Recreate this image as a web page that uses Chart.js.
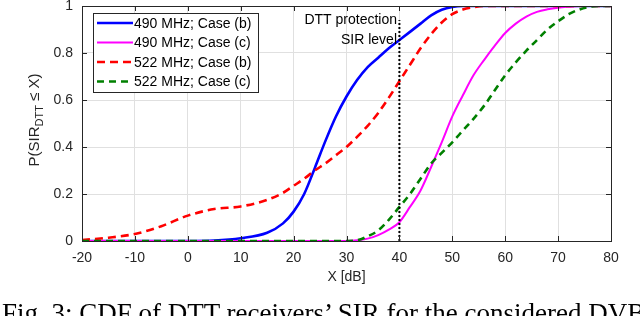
<!DOCTYPE html>
<html>
<head>
<meta charset="utf-8">
<script src="https://cdn.jsdelivr.net/npm/chart.js@4/dist/chart.umd.min.js"></script>
<style>
    body { margin: 0; background: #fff; }
    #wrap { position: relative; width: 640px; height: 316px; overflow: hidden; }
    #caption {
        position: absolute; left: 2px; top: 300px; white-space: nowrap;
        font-family: "Liberation Serif", serif; font-size: 27px; line-height: 27px; color: #000;
    }
</style>
</head>
<body>
<div id="wrap">
    <canvas id="cdf-chart" width="640" height="316"></canvas>
    <div id="caption">Fig. 3: CDF of DTT receivers’ SIR for the considered DVB-T</div>
</div>
<script>
// X grid (SIR in dB) shared by all the curves
const sirValues = [-20, -15, -10, -5, 0, 5, 10, 15, 18, 20, 22, 24, 26, 28, 30, 32, 34, 36, 38, 40,
    42, 44, 46, 48, 50, 52, 54, 56, 58, 60, 62, 64, 66, 68, 70, 72, 74, 76, 78, 80];

// CDF values
const cdf490b = [0, 0, 0, 0, 0, 0.002, 0.012, 0.035, 0.075, 0.125, 0.2, 0.31, 0.425, 0.53, 0.615, 0.685, 0.74, 0.78, 0.82, 0.855,
    0.89, 0.925, 0.96, 0.984, 0.996, 1, 1, 1, 1, 1, 1, 1, 1, 1, 1, 1, 1, 1, 1, 1];
const cdf490c = [0, 0, 0, 0, 0, 0, 0, 0, 0, 0, 0, 0, 0, 0, 0, 0.003, 0.01, 0.025, 0.048, 0.08,
    0.145, 0.215, 0.315, 0.42, 0.53, 0.62, 0.705, 0.77, 0.83, 0.885, 0.925, 0.955, 0.975, 0.986, 0.993, 0.997, 1, 1, 1, 1];
const cdf522b = [0.004, 0.014, 0.03, 0.063, 0.108, 0.136, 0.147, 0.175, 0.205, 0.235, 0.265, 0.3, 0.33, 0.365, 0.4, 0.443, 0.49, 0.545, 0.61, 0.68,
    0.75, 0.82, 0.88, 0.93, 0.965, 0.985, 0.995, 1, 1, 1, 1, 1, 1, 1, 1, 1, 1, 1, 1, 1];
const cdf522c = [0, 0, 0, 0, 0, 0, 0, 0, 0, 0, 0, 0, 0, 0, 0, 0.003, 0.02, 0.045, 0.09, 0.145,
    0.2, 0.265, 0.33, 0.375, 0.42, 0.47, 0.52, 0.575, 0.64, 0.705, 0.76, 0.81, 0.855, 0.9, 0.935, 0.965, 0.985, 0.997, 1, 1];

const seriesLabels = ["490 MHz; Case (b)", "490 MHz; Case (c)", "522 MHz; Case (b)", "522 MHz; Case (c)"];
const seriesColors = ["#0000ff", "#ff00ff", "#ff0000", "#008000"];

// DTT protection SIR level marker
const protectionX = [40, 40];
const protectionY = [0, 0.94];
const protectionText = ["DTT protection", "SIR level"];

const xTicks = [-20, -10, 0, 10, 20, 30, 40, 50, 60, 70, 80];
const yTicks = [0, 0.2, 0.4, 0.6, 0.8, 1];

const AXIS_COLOR = "#262626";
const FONT = "Liberation Sans, Arial, sans-serif";

function toPoints(xs, ys) {
    return xs.map((x, i) => ({ x: x, y: ys[i] }));
}

// Styles for the four curves (lines + dashes like the MATLAB plot)
const lineStyles = [
    { width: 2.6, dash: [] },
    { width: 2, dash: [] },
    { width: 2.6, dash: [8, 5] },
    { width: 2.6, dash: [7, 5] }
];
const allSeries = [cdf490b, cdf490c, cdf522b, cdf522c];

const datasets = allSeries.map((values, i) => ({
    label: seriesLabels[i],
    data: toPoints(sirValues, values),
    borderColor: seriesColors[i],
    borderWidth: lineStyles[i].width,
    borderDash: lineStyles[i].dash,
    pointRadius: 0,
    cubicInterpolationMode: "monotone",
    order: 4 - i // later series on top, like MATLAB
}));

datasets.push({
    label: "protection",
    data: toPoints(protectionX, protectionY),
    borderColor: "#000",
    borderWidth: 2,
    borderDash: [2, 2],
    pointRadius: 0,
    order: 0
});

// Draws the box, inward ticks, axis titles, legend and text note
const decorPlugin = {
    id: "decor",
    afterDraw(chart) {
        const ctx = chart.ctx;
        const area = chart.chartArea;
        const xs = chart.scales.x;
        const ys = chart.scales.y;
        ctx.save();

        // box
        ctx.strokeStyle = AXIS_COLOR;
        ctx.lineWidth = 1;
        ctx.setLineDash([]);
        ctx.strokeRect(Math.round(area.left) + 0.5, Math.round(area.top) + 0.5,
            Math.round(area.right - area.left), Math.round(area.bottom - area.top));

        // inward tick marks on all four sides
        ctx.beginPath();
        xTicks.forEach(v => {
            const px = Math.round(xs.getPixelForValue(v)) + 0.5;
            ctx.moveTo(px, area.bottom); ctx.lineTo(px, area.bottom - 5);
            ctx.moveTo(px, area.top); ctx.lineTo(px, area.top + 5);
        });
        yTicks.forEach(v => {
            const py = Math.round(ys.getPixelForValue(v)) + 0.5;
            ctx.moveTo(area.left, py); ctx.lineTo(area.left + 5, py);
            ctx.moveTo(area.right, py); ctx.lineTo(area.right - 5, py);
        });
        ctx.stroke();

        // x title
        ctx.fillStyle = AXIS_COLOR;
        ctx.font = "14px " + FONT;
        ctx.textAlign = "center";
        ctx.textBaseline = "middle";
        ctx.fillText("X [dB]", (area.left + area.right) / 2, 277);

        // y title with subscript
        ctx.translate(35, 120);
        ctx.rotate(-Math.PI / 2);
        const big = "15px " + FONT, small = "11px " + FONT;
        const parts = [["P(SIR", big, 0], ["DTT", small, 5], [" ≤ X)", big, 0]];
        let total = 0;
        parts.forEach(p => { ctx.font = p[1]; total += ctx.measureText(p[0]).width; });
        let cx = -total / 2;
        ctx.textAlign = "left";
        parts.forEach(p => {
            ctx.font = p[1];
            ctx.fillText(p[0], cx, p[2]);
            cx += ctx.measureText(p[0]).width;
        });
        ctx.setTransform(1, 0, 0, 1, 0, 0);

        // protection note
        ctx.fillStyle = "#000";
        ctx.font = "14px " + FONT;
        ctx.textAlign = "right";
        ctx.fillText(protectionText[0], 397, 20);
        ctx.fillText(protectionText[1], 397, 40);

        // legend
        ctx.fillStyle = "#fff";
        ctx.fillRect(93.5, 13.5, 165, 79);
        ctx.strokeStyle = AXIS_COLOR;
        ctx.lineWidth = 1;
        ctx.strokeRect(93.5, 13.5, 165, 79);
        const rows = [23, 42.5, 62, 81.5];
        seriesLabels.forEach((label, i) => {
            ctx.strokeStyle = seriesColors[i];
            ctx.lineWidth = lineStyles[i].width;
            ctx.setLineDash(lineStyles[i].dash);
            ctx.beginPath();
            ctx.moveTo(97, rows[i]);
            ctx.lineTo(133, rows[i]);
            ctx.stroke();
            ctx.setLineDash([]);
            ctx.fillStyle = "#000";
            ctx.textAlign = "left";
            ctx.fillText(label, 134, rows[i] + 1);
        });

        ctx.restore();
    }
};

function fixWidth(w) {
    return function (scale) {
        scale.width = w;
        scale.paddingTop = 0; scale.paddingBottom = 0;
    };
}
function fixHeight(h) {
    return function (scale) {
        scale.height = h;
        scale.paddingLeft = 0; scale.paddingRight = 0;
    };
}

Chart.defaults.font.family = FONT;
Chart.defaults.font.size = 14;
Chart.defaults.color = AXIS_COLOR;

new Chart(document.getElementById("cdf-chart"), {
    type: "line",
    data: { datasets: datasets },
    options: {
        responsive: false,
        animation: false,
        layout: { padding: { left: 0, top: 6, right: 29, bottom: 0 } },
        plugins: { legend: { display: false }, tooltip: { enabled: false } },
        scales: {
            x: {
                type: "linear",
                min: -20, max: 80,
                afterFit: fixHeight(75),
                afterBuildTicks: s => { s.ticks = xTicks.map(v => ({ value: v })); },
                ticks: { padding: 9, maxRotation: 0 },
                grid: { color: "#e0e0e0", drawTicks: false },
                border: { color: AXIS_COLOR }
            },
            y: {
                min: 0, max: 1,
                afterFit: fixWidth(82),
                afterBuildTicks: s => { s.ticks = yTicks.map(v => ({ value: v })); },
                ticks: {
                    padding: 9,
                    callback: v => (v === 0 || v === 1) ? String(v) : v.toFixed(1)
                },
                grid: { color: "#e0e0e0", drawTicks: false },
                border: { color: AXIS_COLOR }
            }
        }
    },
    plugins: [decorPlugin]
});
</script>
</body>
</html>
